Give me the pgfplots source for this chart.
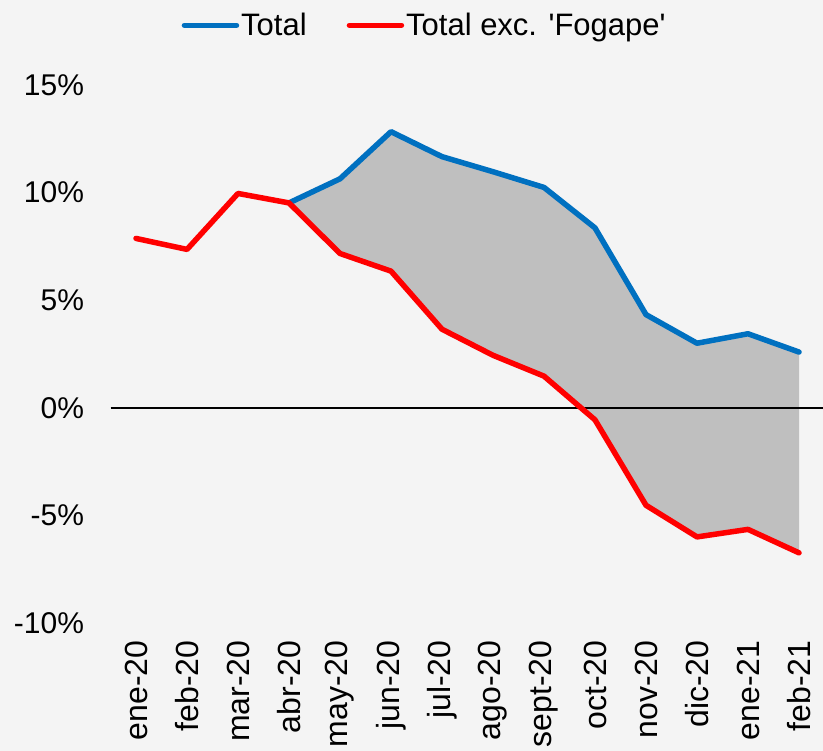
\documentclass[border=0pt]{standalone}
\usepackage{fontspec}
\setmainfont{Liberation Sans}
\usepackage{pgfplots}
\pgfplotsset{compat=1.18}
\usepgfplotslibrary{fillbetween}
\definecolor{cblue}{HTML}{0070C0}
\definecolor{cred}{HTML}{FF0000}
\definecolor{cgray}{HTML}{BFBFBF}
\definecolor{bgcol}{HTML}{F4F4F4}
\begin{document}
\begin{tikzpicture}
\fill[bgcol] (0pt,0pt) rectangle (823pt,751pt);
\begin{axis}[
  at={(110.5pt,128pt)}, anchor=south west,
  scale only axis, width=714pt, height=538pt,
  xmin=-0.5, xmax=13.5, ymin=-10, ymax=15,
  axis line style={draw=none},
  major tick length=0pt,
  xtick={0,...,13},
  xticklabels={ene-20,feb-20,mar-20,abr-20,may-20,jun-20,jul-20,ago-20,sept-20,oct-20,nov-20,dic-20,ene-21,feb-21},
  ytick={-10,-5,0,5,10,15},
  yticklabels={-10\%,-5\%,0\%,5\%,10\%,15\%},
  yticklabel style={font=\fontsize{30}{36}\selectfont, text=black, anchor=east, xshift=-23pt},
  xticklabel style={font=\fontsize{32}{38}\selectfont, text=black, rotate=90, anchor=east, xshift=-14pt},
  clip=false,
  legend style={at={(0.44,1.111)}, anchor=center, draw=none, fill=none,
    font=\fontsize{31}{37}\selectfont, legend columns=2,
    /tikz/every even column/.append style={column sep=38pt},
    inner sep=0pt},
  legend image code/.code={\draw[#1] (0pt,0pt) -- (52pt,0pt);},
]
\addplot[name path=blue, draw=none, forget plot] coordinates {
(3,9.52) (4,10.64) (5,12.83) (6,11.67) (7,10.97) (8,10.24) (9,8.36) (10,4.33) (11,3.0) (12,3.44) (13,2.59)};
\addplot[name path=redpart, draw=none, forget plot] coordinates {
(3,9.52) (4,7.17) (5,6.35) (6,3.65) (7,2.44) (8,1.47) (9,-0.56) (10,-4.53) (11,-6.0) (12,-5.65) (13,-6.74)};
\addplot[fill=cgray, draw=none, forget plot] fill between[of=blue and redpart, on layer=main];
\addplot[black, line width=1.6pt, forget plot] coordinates {(-0.5,0) (13.5,0)};
\addplot[cblue, line width=5.5pt, line join=round, line cap=round] coordinates {
(3,9.52) (4,10.64) (5,12.83) (6,11.67) (7,10.97) (8,10.24) (9,8.36) (10,4.33) (11,3.0) (12,3.44) (13,2.59)};
\addlegendentry{Total}
\addplot[cred, line width=5.5pt, line join=round, line cap=round] coordinates {
(0,7.87) (1,7.36) (2,9.96) (3,9.52) (4,7.17) (5,6.35) (6,3.65) (7,2.44) (8,1.47) (9,-0.56) (10,-4.53) (11,-6.0) (12,-5.65) (13,-6.74)};
\addlegendentry{Total exc. \textquotesingle Fogape\textquotesingle}
\end{axis}
\pgfresetboundingbox
\useasboundingbox (0pt,0pt) rectangle (823pt,751pt);
\end{tikzpicture}
\end{document}
